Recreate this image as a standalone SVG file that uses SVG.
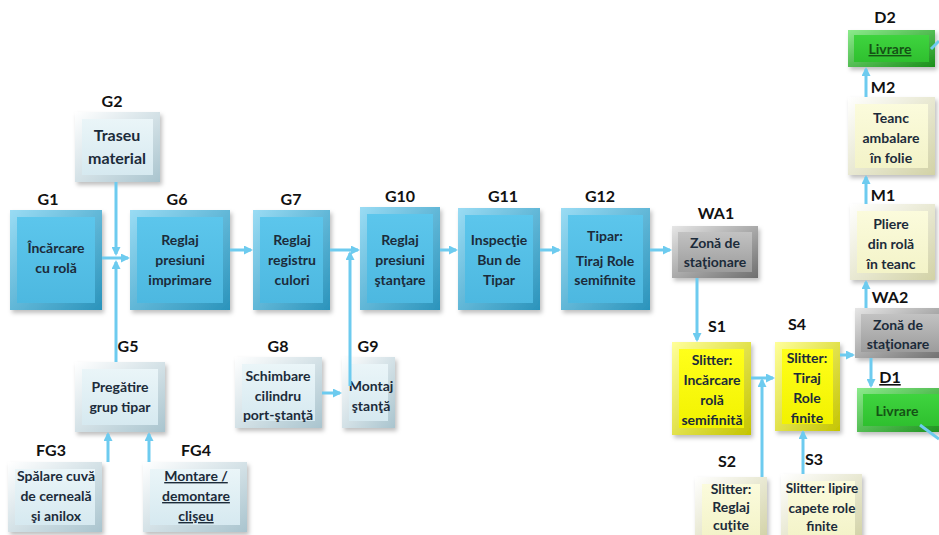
<svg xmlns="http://www.w3.org/2000/svg" width="939" height="535" viewBox="0 0 939 535">
  <defs>
    <linearGradient id="fr-blue" x1="0" y1="0" x2="1" y2="1"><stop offset="0" stop-color="#9adcf4"/><stop offset="1" stop-color="#2a93bb"/></linearGradient>
    <linearGradient id="fc-blue" x1="0" y1="0" x2="0" y2="1"><stop offset="0" stop-color="#5cc6ec"/><stop offset="1" stop-color="#4db8e0"/></linearGradient>
    <linearGradient id="fr-light" x1="0" y1="0" x2="1" y2="1"><stop offset="0" stop-color="#ffffff"/><stop offset="1" stop-color="#a9c4ce"/></linearGradient>
    <linearGradient id="fc-light" x1="0" y1="0" x2="0" y2="1"><stop offset="0" stop-color="#eaf5f8"/><stop offset="1" stop-color="#d6e9f0"/></linearGradient>
    <linearGradient id="fr-yellow" x1="0" y1="0" x2="1" y2="1"><stop offset="0" stop-color="#ffff9a"/><stop offset="1" stop-color="#c4c400"/></linearGradient>
    <linearGradient id="fc-yellow" x1="0" y1="0" x2="0" y2="1"><stop offset="0" stop-color="#ffff1a"/><stop offset="1" stop-color="#f2f200"/></linearGradient>
    <linearGradient id="fr-cream" x1="0" y1="0" x2="1" y2="1"><stop offset="0" stop-color="#ffffff"/><stop offset="1" stop-color="#d2d2a6"/></linearGradient>
    <linearGradient id="fc-cream" x1="0" y1="0" x2="0" y2="1"><stop offset="0" stop-color="#fbfbdc"/><stop offset="1" stop-color="#f3f3c8"/></linearGradient>
    <linearGradient id="fr-grey" x1="0" y1="0" x2="1" y2="1"><stop offset="0" stop-color="#e6e6e6"/><stop offset="1" stop-color="#6e6e6e"/></linearGradient>
    <linearGradient id="fc-grey" x1="0" y1="0" x2="0" y2="1"><stop offset="0" stop-color="#c2c2c2"/><stop offset="1" stop-color="#9c9c9c"/></linearGradient>
    <linearGradient id="fr-green" x1="0" y1="0" x2="1" y2="1"><stop offset="0" stop-color="#8ceb8c"/><stop offset="1" stop-color="#1b8f1b"/></linearGradient>
    <linearGradient id="fc-green" x1="0" y1="0" x2="0" y2="1"><stop offset="0" stop-color="#3fd43f"/><stop offset="1" stop-color="#2fc02f"/></linearGradient>
    <filter id="shadow" x="-10%" y="-10%" width="130%" height="130%">
      <feDropShadow dx="2" dy="3" stdDeviation="2" flood-color="#000" flood-opacity="0.25"/>
    </filter>
    <marker id="arrow" markerWidth="9" markerHeight="9" refX="7" refY="4.5" orient="auto" markerUnits="userSpaceOnUse">
      <path d="M0,0 L9,4.5 L0,9 Z" fill="#6dcbef"/>
    </marker>
  </defs>
  <style>
    .frame { filter: url(#shadow); }
    .blue .frame { fill: url(#fr-blue); } .blue .face { fill: url(#fc-blue); }
    .light .frame { fill: url(#fr-light); } .light .face { fill: url(#fc-light); }
    .yellow .frame { fill: url(#fr-yellow); } .yellow .face { fill: url(#fc-yellow); }
    .cream .frame { fill: url(#fr-cream); } .cream .face { fill: url(#fc-cream); }
    .grey .frame { fill: url(#fr-grey); } .grey .face { fill: url(#fc-grey); }
    .green .frame { fill: url(#fr-green); } .green .face { fill: url(#fc-green); }
    text { font-family: Lato, "Noto Sans", "Liberation Sans", sans-serif; font-weight: bold; text-anchor: middle; }
    .t { font-size: 14px; fill: #1c2b3a; }
    .sm { font-size: 13.5px; }
    .green .t { fill: #155215; }
    .big { font-size: 16px; }
    .lbl { font-size: 16px; fill: #111; }
    .u { text-decoration: underline; }
    .conn { fill: none; stroke: #6dcbef; stroke-width: 3; }
    .arr { marker-end: url(#arrow); }
  </style>

  <!-- node labels -->
  <g id="labels">
    <text class="lbl" x="48" y="205">G1</text>
    <text class="lbl" x="112" y="107">G2</text>
    <text class="lbl" x="177" y="205">G6</text>
    <text class="lbl" x="291" y="205">G7</text>
    <text class="lbl" x="400" y="202">G10</text>
    <text class="lbl" x="503" y="202">G11</text>
    <text class="lbl" x="600" y="202">G12</text>
    <text class="lbl" x="716" y="219">WA1</text>
    <text class="lbl" x="717" y="332">S1</text>
    <text class="lbl" x="797" y="330">S4</text>
    <text class="lbl" x="890" y="303">WA2</text>
    <text class="lbl u" x="890" y="383">D1</text>
    <text class="lbl" x="885" y="23">D2</text>
    <text class="lbl" x="883" y="93">M2</text>
    <text class="lbl" x="883" y="201">M1</text>
    <text class="lbl" x="727" y="467">S2</text>
    <text class="lbl" x="814" y="465">S3</text>
    <text class="lbl" x="128" y="352">G5</text>
    <text class="lbl" x="51" y="456">FG3</text>
    <text class="lbl" x="196" y="456">FG4</text>
    <text class="lbl" x="278" y="352">G8</text>
    <text class="lbl" x="368" y="352">G9</text>
  </g>

  <!-- nodes -->
  <g id="G1" class="blue">
    <rect class="frame" x="10" y="210" width="92" height="100"/>
    <rect class="face" x="17" y="217" width="78" height="86"/>
    <text class="t" x="56" y="253">Încărcare</text>
    <text class="t" x="56" y="273">cu rolă</text>
  </g>
  <g id="G2" class="light">
    <rect class="frame" x="75" y="112" width="85" height="70"/>
    <rect class="face" x="82" y="119" width="71" height="56"/>
    <text class="t big" x="117" y="141">Traseu</text>
    <text class="t big" x="117" y="164">material</text>
  </g>
  <g id="G6" class="blue">
    <rect class="frame" x="130" y="210" width="100" height="100"/>
    <rect class="face" x="137" y="217" width="86" height="86"/>
    <text class="t" x="180" y="245">Reglaj</text>
    <text class="t" x="180" y="265">presiuni</text>
    <text class="t" x="180" y="285">imprimare</text>
  </g>
  <g id="G7" class="blue">
    <rect class="frame" x="253" y="210" width="77" height="100"/>
    <rect class="face" x="260" y="217" width="63" height="86"/>
    <text class="t" x="292" y="245">Reglaj</text>
    <text class="t" x="292" y="265">registru</text>
    <text class="t" x="292" y="285">culori</text>
  </g>
  <g id="G10" class="blue">
    <rect class="frame" x="360" y="207" width="80" height="103"/>
    <rect class="face" x="367" y="214" width="66" height="89"/>
    <text class="t" x="400" y="245">Reglaj</text>
    <text class="t" x="400" y="265">presiuni</text>
    <text class="t" x="400" y="285">ştanţare</text>
  </g>
  <g id="G11" class="blue">
    <rect class="frame" x="458" y="208" width="82" height="102"/>
    <rect class="face" x="465" y="215" width="68" height="88"/>
    <text class="t" x="499" y="245">Inspecţie</text>
    <text class="t" x="499" y="265">Bun de</text>
    <text class="t" x="499" y="285">Tipar</text>
  </g>
  <g id="G12" class="blue">
    <rect class="frame" x="561" y="208" width="89" height="102"/>
    <rect class="face" x="568" y="215" width="75" height="88"/>
    <text class="t" x="605" y="241">Tipar:</text>
    <text class="t" x="605" y="266">Tiraj Role</text>
    <text class="t" x="605" y="285">semifinite</text>
  </g>
  <g id="WA1" class="grey">
    <rect class="frame" x="672" y="226" width="86" height="52"/>
    <rect class="face" x="678" y="232" width="74" height="40"/>
    <text class="t" x="715" y="248">Zonă de</text>
    <text class="t" x="715" y="267">staţionare</text>
  </g>
  <g id="S1" class="yellow">
    <rect class="frame" x="672" y="342" width="79" height="93"/>
    <rect class="face" x="679" y="349" width="65" height="79"/>
    <text class="t" x="712" y="365">Slitter:</text>
    <text class="t" x="712" y="385">Incărcare</text>
    <text class="t" x="712" y="405">rolă</text>
    <text class="t" x="712" y="425">semifinită</text>
  </g>
  <g id="S4" class="yellow">
    <rect class="frame" x="775" y="342" width="65" height="89"/>
    <rect class="face" x="782" y="349" width="51" height="75"/>
    <text class="t" x="807" y="363">Slitter:</text>
    <text class="t" x="807" y="383">Tiraj</text>
    <text class="t" x="807" y="403">Role</text>
    <text class="t" x="807" y="423">finite</text>
  </g>
  <g id="WA2" class="grey">
    <rect class="frame" x="855" y="308" width="90" height="50"/>
    <rect class="face" x="861" y="314" width="78" height="38"/>
    <text class="t" x="898" y="330">Zonă de</text>
    <text class="t" x="898" y="349">staţionare</text>
  </g>
  <g id="D1" class="green">
    <rect class="frame" x="857" y="388" width="88" height="44"/>
    <rect class="face" x="863" y="394" width="76" height="32"/>
    <text class="t" x="897" y="416">Livrare</text>
  </g>
  <g id="D2" class="green">
    <rect class="frame" x="848" y="30" width="87" height="37"/>
    <rect class="face" x="854" y="35" width="75" height="27"/>
    <text class="t u" x="890" y="54">Livrare</text>
  </g>
  <g id="M2" class="cream">
    <rect class="frame" x="848" y="97" width="87" height="78"/>
    <rect class="face" x="855" y="104" width="73" height="64"/>
    <text class="t" x="891" y="123">Teanc</text>
    <text class="t" x="891" y="143">ambalare</text>
    <text class="t" x="891" y="163">în folie</text>
  </g>
  <g id="M1" class="cream">
    <rect class="frame" x="850" y="204" width="85" height="76"/>
    <rect class="face" x="857" y="211" width="71" height="62"/>
    <text class="t" x="891" y="229">Pliere</text>
    <text class="t" x="891" y="249">din rolă</text>
    <text class="t" x="891" y="269">în teanc</text>
  </g>
  <g id="S2" class="cream">
    <rect class="frame" x="695" y="477" width="72" height="62"/>
    <rect class="face" x="702" y="484" width="58" height="55"/>
    <text class="t" x="731" y="494">Slitter:</text>
    <text class="t" x="731" y="512">Reglaj</text>
    <text class="t" x="731" y="530">cuţite</text>
  </g>
  <g id="S3" class="cream">
    <rect class="frame" x="781" y="474" width="81" height="65"/>
    <rect class="face" x="788" y="481" width="67" height="58"/>
    <text class="t sm" x="822" y="493">Slitter: lipire</text>
    <text class="t sm" x="822" y="513">capete role</text>
    <text class="t sm" x="822" y="531">finite</text>
  </g>
  <g id="G5" class="light">
    <rect class="frame" x="75" y="362" width="90" height="70"/>
    <rect class="face" x="82" y="369" width="76" height="56"/>
    <text class="t" x="120" y="392">Pregătire</text>
    <text class="t" x="120" y="412">grup tipar</text>
  </g>
  <g id="FG3" class="light">
    <rect class="frame" x="8" y="462" width="94" height="70"/>
    <rect class="face" x="15" y="469" width="80" height="56"/>
    <text class="t" x="56" y="481">Spălare cuvă</text>
    <text class="t" x="56" y="501">de cerneală</text>
    <text class="t" x="56" y="521">şi anilox</text>
  </g>
  <g id="FG4" class="light">
    <rect class="frame" x="143" y="462" width="104" height="70"/>
    <rect class="face" x="150" y="469" width="90" height="56"/>
    <text class="t u" x="196" y="481">Montare /</text>
    <text class="t u" x="196" y="501">demontare</text>
    <text class="t u" x="196" y="521">clişeu</text>
  </g>
  <g id="G8" class="light">
    <rect class="frame" x="235" y="357" width="87" height="71"/>
    <rect class="face" x="242" y="364" width="73" height="57"/>
    <text class="t" x="278" y="381">Schimbare</text>
    <text class="t" x="278" y="401">cilindru</text>
    <text class="t" x="278" y="420">port-ştanţă</text>
  </g>
  <g id="G9" class="light">
    <rect class="frame" x="342" y="357" width="53" height="71"/>
    <rect class="face" x="349" y="364" width="39" height="57"/>
    <text class="t" x="371" y="391">Montaj</text>
    <text class="t" x="371" y="411">ştanţă</text>
  </g>

  <!-- connectors, drawn over the boxes -->
  <g id="connectors">
    <path class="conn arr" d="M102,258 H128"/>
    <path class="conn arr" d="M116,182 V254"/>
    <path class="conn arr" d="M116,362 V262"/>
    <path class="conn arr" d="M230,250 H251"/>
    <path class="conn arr" d="M330,250 H358"/>
    <path class="conn arr" d="M350,386 V253"/>
    <path class="conn arr" d="M322,393 H340"/>
    <path class="conn arr" d="M440,250 H456"/>
    <path class="conn arr" d="M540,250 H559"/>
    <path class="conn arr" d="M650,250 H670"/>
    <path class="conn arr" d="M697,278 V340"/>
    <path class="conn arr" d="M751,378 H773"/>
    <path class="conn arr" d="M762,477 V380"/>
    <path class="conn arr" d="M803,474 V432"/>
    <path class="conn arr" d="M840,355 H853"/>
    <path class="conn arr" d="M866,308 V282"/>
    <path class="conn arr" d="M871,358 V386"/>
    <path class="conn arr" d="M866,204 V177"/>
    <path class="conn arr" d="M866,97 V69"/>
    <path class="conn" d="M920,425 L939,439"/>
    <path class="conn" d="M931,49 L939,41"/>
    <path class="conn arr" d="M108,462 V434"/>
    <path class="conn arr" d="M149,462 V434"/>
  </g>
</svg>
